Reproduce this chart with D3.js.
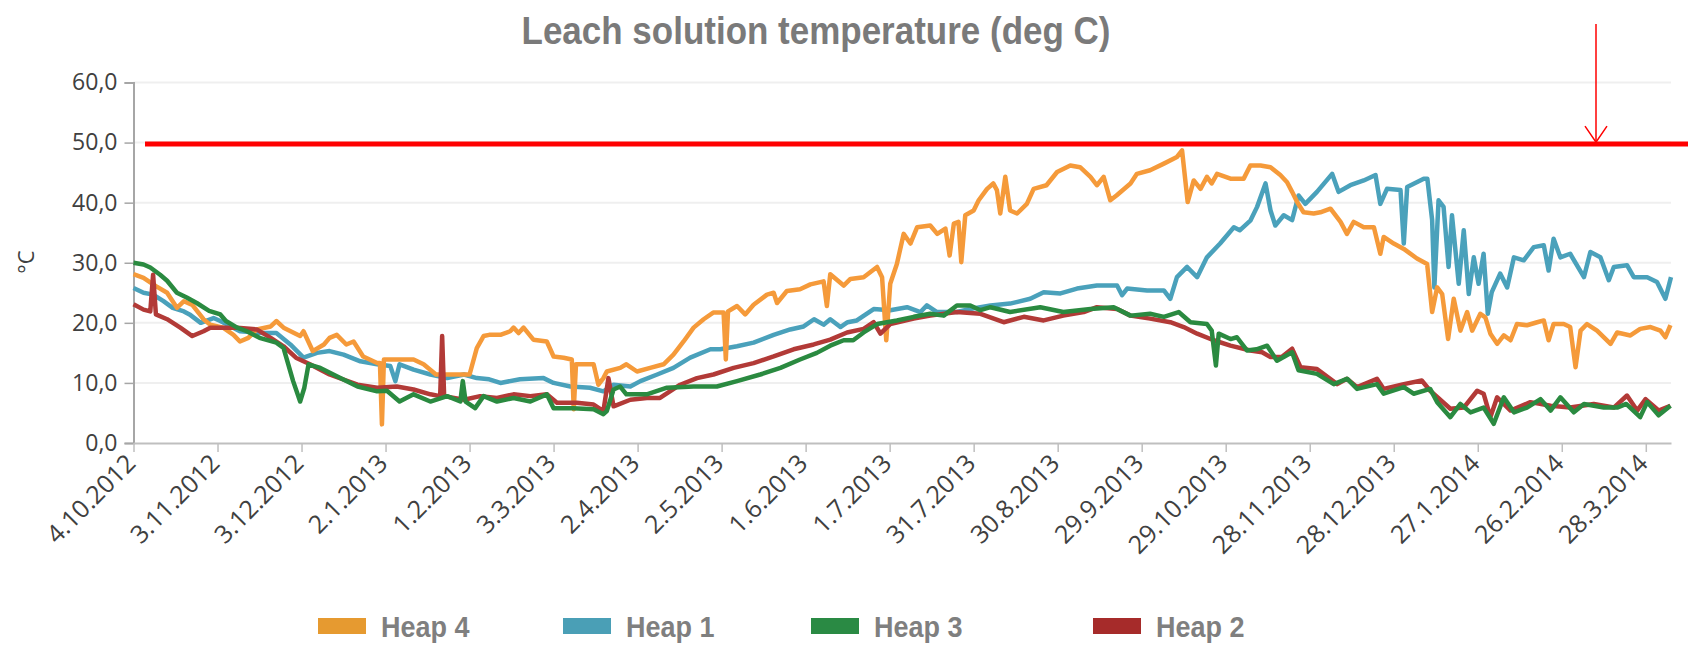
<!DOCTYPE html>
<html>
<head>
<meta charset="utf-8">
<script src="https://cdn.jsdelivr.net/npm/d3@7"></script>
<style>
  body { margin: 0; background: #fff; }
  svg { display: block; }
</style>
</head>
<body>
<div id="chart"></div>
<script>
// days since 4.10.2012, temperature in deg C
const heap4 = [[0,28.1],[3.6,27.5],[8,26.1],[12,25],[15.5,22.5],[18,23.6],[21,23],[25,20.6],[27.4,19.7],[32,19.2],[35.7,18],[38,16.9],[41,17.5],[44,18.9],[49,19.4],[51,20.3],[53.6,19.2],[59.5,17.8],[60.7,18.6],[64,15.3],[68,16.4],[70,17.5],[72.6,18],[76,16.4],[78.6,16.9],[82,14.4],[87,13.3],[88,13.3],[88.7,3.1],[89.4,13.9],[94,13.9],[100,13.9],[103.6,13.1],[108,11.4],[113,11.4],[118,11.4],[120,11.4],[122.6,15.8],[125,17.8],[127,18],[131,18],[134.5,18.6],[135.7,19.2],[137.5,18.3],[139.3,19.2],[142.8,17.2],[147.6,16.9],[150,14.4],[153.6,14.2],[156.5,13.9],[157.2,5.6],[158,13.1],[164.3,13.1],[166,9.7],[167.8,10.8],[169,11.9],[173.8,12.5],[176,13.1],[179.8,11.9],[184.5,12.5],[189.3,13.1],[192.8,14.7],[196.4,16.9],[200,19.2],[203.6,20.6],[207,21.7],[210.7,21.7],[211.5,13.9],[212.3,21.9],[215.5,22.8],[218.4,21.4],[221.4,23],[226.2,24.7],[228.6,25],[229.8,23.3],[233.3,25.3],[238,25.6],[241.7,26.4],[246.4,26.9],[247.6,22.8],[248.8,28.1],[253.6,26.2],[256,27.3],[260.7,27.6],[265.5,29.3],[267.3,27.6],[268.8,17.1],[270.2,26.5],[272.6,29.8],[275,34.8],[277.4,33.2],[279.8,35.9],[284.5,36.2],[287,34.8],[289.9,35.7],[291.4,31.2],[292.9,36.5],[294.6,36.8],[295.6,30.1],[297,37.9],[300,38.7],[301.8,40.4],[304.8,42.3],[307,43.2],[308.3,42.1],[309.5,38.2],[311.3,44.3],[313,38.7],[315.5,38.2],[319,39.8],[321.4,42.3],[326,42.9],[329.8,45.1],[334.5,46.2],[338,45.9],[341.7,44.3],[344,42.9],[346.4,44.3],[348.8,40.4],[351,41.2],[356,43.2],[358.3,44.8],[363,45.4],[367.9,46.5],[372.6,47.6],[374.4,48.7],[376.4,40.1],[378.6,43.7],[381,42.3],[383.3,44.3],[385,43.2],[386.9,44.8],[391.7,44],[396.4,44],[398.8,46.2],[402.4,46.2],[406,45.9],[409.5,44.6],[411.9,43.4],[413.7,41.8],[415.5,40.1],[417.8,38.4],[421.4,38.2],[423.8,38.4],[427.4,39],[431,36.8],[433.3,34.8],[435.7,36.8],[439.3,35.9],[442.9,35.9],[445.2,31.5],[446.4,34.3],[450,33.2],[453.6,32.3],[458.3,30.7],[461.9,29.8],[463.7,21.8],[465.5,25.9],[467.3,24.8],[469.4,17.3],[471.4,24],[473.8,18.7],[476.2,21.8],[478,18.7],[480.9,21.5],[482.7,20.9],[484.5,18.2],[486.9,16.5],[489.3,17.9],[491.7,17.1],[494,19.8],[497.6,19.6],[501.2,20.1],[503.6,20.4],[505.3,17.1],[507.1,19.8],[510.7,19.8],[513,19.3],[514.9,12.6],[516.7,18.7],[519,19.8],[522.6,18.7],[527.4,16.5],[529.8,18.4],[534.5,17.9],[538,19],[541.7,19.3],[545.2,18.7],[547,17.6],[548.8,19.6]];

const heap1 = [[0,25.8],[3.6,25],[7,24.7],[10.7,23.6],[14,22.5],[18,21.9],[20,21.4],[24,20],[28.6,20.8],[31,20.3],[38,18.6],[46,18.3],[51,18.3],[56,16.4],[60.7,14.2],[65.5,15],[70,15.3],[75,14.7],[81,13.6],[87,13.1],[91.7,12.8],[93.5,10.3],[95,13.1],[100,12.2],[106,11.4],[112,10.8],[118,11.4],[122.6,10.8],[127,10.6],[131,10],[138,10.6],[146.4,10.8],[150,10],[156,9.4],[163,9.2],[167.8,8.6],[171.4,9.7],[177.4,9.4],[181,10.3],[187,11.4],[192.8,12.5],[198.8,14.2],[206,15.6],[209.5,15.6],[215.5,16.1],[221.4,16.7],[228.6,18],[234.5,18.9],[239.3,19.4],[243,20.6],[246.4,19.7],[248.8,20.6],[252.4,19.3],[255,20.1],[258.3,20.4],[264.3,22.3],[270.2,22.1],[276.2,22.6],[281,21.8],[283.3,22.9],[286.9,21.8],[294,21.8],[298.8,22.3],[306,22.9],[313,23.2],[320.2,24],[325,25.1],[331,24.9],[336.9,25.7],[344,26.2],[351.2,26.2],[353,24.6],[354.8,25.7],[361.9,25.4],[367.9,25.4],[370.2,24],[372.6,27.6],[376.2,29.3],[379.8,27.6],[383.3,30.9],[388,33.2],[392.9,35.9],[395,35.4],[398.8,37],[401.2,39.3],[404.2,43.2],[406,38.7],[407.7,36.2],[410.7,37.9],[413.7,37.1],[416,41.2],[418.4,39.8],[422.6,41.8],[428,44.8],[430.3,41.8],[434.5,42.9],[439.3,43.7],[443.5,44.6],[445.2,39.8],[447.6,42.3],[452.4,42.1],[453.6,33.2],[454.8,42.6],[460.7,44],[462,44],[463.7,37.1],[464.5,25.9],[466,40.4],[467.8,39.3],[469.6,29.3],[470.8,37.9],[473.2,26.5],[475,35.4],[476.8,24.8],[478.6,30.9],[480.3,26.5],[482.1,31.5],[483.6,21.5],[485,25.1],[488,28.2],[490.5,25.9],[492.9,30.9],[496.4,30.4],[500,32.6],[503.6,32.9],[505.3,28.7],[507.1,34],[509.5,30.9],[513,31.5],[517.9,27.6],[520.2,31.8],[523.8,30.9],[526.8,27.1],[528.6,29.3],[533.3,29.6],[535.7,27.6],[540.5,27.6],[544,26.8],[547,24],[549,27.6]];

const heap3 = [[0,30],[3.6,29.7],[6,29.2],[9.5,28],[12,27],[15.5,25],[19,24.2],[22.6,23.3],[27,22],[31,21.4],[33,20.3],[37,19.2],[40.5,18.6],[45,17.5],[51,16.7],[53.6,15.8],[57,10.3],[59.5,6.9],[61,9.2],[62.5,13.1],[66.7,12.5],[72.6,11.1],[80,9.4],[87,8.6],[90.5,8.7],[95,6.9],[100,8.1],[106,6.9],[112,7.8],[116.7,6.9],[117.6,10.3],[118.6,6.9],[122,5.8],[125,7.8],[129.8,6.9],[135.7,7.5],[141.7,6.9],[147.6,8.1],[150,5.8],[157,5.8],[164.3,5.6],[167.8,4.8],[169,5.3],[171.4,8.9],[173.8,9.4],[176,8.1],[183.3,8.1],[190.5,9.2],[200,9.4],[208.3,9.4],[215.5,10.3],[223.8,11.4],[231,12.5],[238,13.9],[244,15],[248.8,16.2],[253.6,17.1],[257,17.1],[260.7,18.4],[265.5,19.8],[272.6,20.4],[278.6,21],[284.5,21.5],[289.3,21.2],[294,22.9],[298.8,22.9],[302.4,22.1],[306,22.6],[313,21.8],[323.8,22.6],[332,21.8],[341.7,22.3],[350,22.6],[356,21.2],[363,21.5],[367.9,21],[373.2,21.8],[377.4,20.1],[383.3,19.8],[385,18.7],[386.5,12.9],[387.5,18.2],[391.7,17.3],[394,17.6],[397.6,15.4],[401,15.6],[404.8,16.2],[408.3,13.7],[413.7,15.1],[416,12.1],[422.6,11.5],[428.6,9.8],[433.3,10.7],[436.9,9],[444,9.8],[446.4,8.2],[453.6,9.3],[457.1,8.2],[463,9],[465.5,6.8],[470.2,4.3],[473.8,6.5],[477.4,5.1],[482.1,5.9],[485.7,3.2],[489.3,7.6],[492.9,5.1],[497.6,5.9],[502.4,7.3],[506,5.4],[509.5,7.6],[514.3,5.1],[517.9,6.5],[525,5.9],[529.8,5.9],[533,6.5],[538,4.3],[540.5,6.8],[544.6,4.6],[548.8,6.2]];

const heap2 = [[0,23.1],[3.6,22.2],[6,21.9],[7,28],[8,21.4],[12,20.6],[16.7,19.2],[21,17.8],[25,18.6],[27.4,19.2],[32,19.2],[37,19.2],[44,18.9],[49,17.5],[53.6,16.1],[58,14.2],[63,13.1],[70,11.4],[80,9.7],[87,9.2],[94,9.4],[100,8.9],[106,8.1],[109.5,7.8],[110.2,17.8],[110.9,7.8],[118,7.2],[123.8,7.8],[129.8,7.5],[135.7,8.1],[141.7,7.8],[147.6,8.1],[151.2,6.7],[158.3,6.7],[164.3,6.4],[167.8,5.3],[169.6,10.8],[171.4,6.1],[177.4,7.2],[183.3,7.5],[188,7.5],[195.2,9.7],[201.2,10.8],[207.1,11.4],[214.3,12.5],[221.4,13.3],[228.6,14.4],[235.7,15.6],[242.9,16.4],[248.8,17.2],[254.8,18.4],[260.7,19],[264.3,20.1],[266.7,18.2],[270.2,19.8],[278.6,20.7],[284.5,21.2],[294,21.8],[302.4,21.5],[310.7,20.1],[317.9,21],[325,20.4],[332,21.2],[339.3,21.8],[344,22.6],[351.2,22.3],[356,21.2],[363,20.7],[370.2,20.1],[375,19.3],[379.8,18.2],[385.7,17.1],[391.7,16.2],[398.8,15.4],[403,15.1],[406,14.3],[410,14.3],[413.7,15.7],[416.7,12.6],[422.6,12.3],[429.8,9.8],[433.3,10.7],[436.9,9.3],[444,10.7],[446.4,9],[453.6,9.8],[460,10.4],[463,8.7],[470.2,5.7],[475,5.9],[479.8,8.7],[482.1,8.2],[484.5,4.3],[486.9,7.6],[491.7,5.4],[498.8,6.8],[506,6.2],[513,5.9],[521.4,6.5],[528.6,5.9],[533.3,7.9],[536.9,5.4],[539.9,7.3],[544.6,5.4],[548.8,6.2]];

const series_names = ["Heap 4", "Heap 1", "Heap 3", "Heap 2"];
const tick_labels = ["4.10.2012","3.11.2012","3.12.2012","2.1.2013","1.2.2013","3.3.2013","2.4.2013","2.5.2013","1.6.2013","1.7.2013","31.7.2013","30.8.2013","29.9.2013","29.10.2013","28.11.2013","28.12.2013","27.1.2014","26.2.2014","28.3.2014"];
const y_ticks = [0, 10, 20, 30, 40, 50, 60];
const limit_temp = 49.75;
const last_day = "6.4.2014";

const colors = {
  "Heap 4": "#f59a3a",
  "Heap 1": "#4aa1bb",
  "Heap 3": "#2a8a40",
  "Heap 2": "#b23a37"
};
const swatch_colors = {
  "Heap 4": "#e69a30",
  "Heap 1": "#4a9fb6",
  "Heap 3": "#2a8a44",
  "Heap 2": "#a62b2a"
};

const W = 1688, H = 645;
const parse = d3.utcParse("%d.%m.%Y");
const start_date = parse(tick_labels[0]);

const x = d3.scaleUtc()
  .domain([start_date, parse(last_day)])
  .range([133.5, 1671]);
const y = d3.scaleLinear()
  .domain([0, 60])
  .range([443, 82.5]);

const svg = d3.select("#chart")
  .append("svg")
  .attr("width", W)
  .attr("height", H)
  .style("background", "#fff");

// title (slightly stretched vertically like the source image)
svg.append("text")
  .attr("transform", "translate(816,44) scale(1,1.12)")
  .attr("text-anchor", "middle")
  .style("font-family", "'Liberation Sans', Arial, sans-serif")
  .style("font-weight", "bold")
  .style("font-size", "35px")
  .style("fill", "#7a7a7a")
  .text("Leach solution temperature (deg C)");

// horizontal gridlines
svg.append("g")
  .selectAll("line")
  .data(y_ticks.filter(v => v > 0))
  .enter()
  .append("line")
  .attr("x1", x.range()[0])
  .attr("x2", x.range()[1])
  .attr("y1", d => y(d))
  .attr("y2", d => y(d))
  .style("stroke", "#efefef")
  .style("stroke-width", 2);

// y axis
const y_axis = svg.append("g")
  .attr("transform", `translate(${x.range()[0]},0)`)
  .call(d3.axisLeft(y)
    .tickValues(y_ticks)
    .tickSize(9)
    .tickPadding(7)
    .tickFormat(v => d3.format(".1f")(v).replace(".", ",")));
y_axis.select(".domain").style("stroke", "#a6a6a6").style("stroke-width", 2);
y_axis.selectAll(".tick line").style("stroke", "#a6a6a6").style("stroke-width", 1.5);
y_axis.selectAll("text")
  .style("font-family", "'Open Sans', sans-serif")
  .style("font-size", "23px")
  .style("fill", "#404040");

svg.append("text")
  .attr("transform", "translate(34,262) rotate(-90)")
  .attr("text-anchor", "middle")
  .style("font-family", "'Open Sans', sans-serif")
  .style("font-size", "22px")
  .style("fill", "#404040")
  .text("°C");

// x axis
const x_axis = svg.append("g")
  .attr("transform", `translate(0,${y(0)})`)
  .call(d3.axisBottom(x)
    .tickValues(tick_labels.map(parse))
    .tickSize(9)
    .tickSizeOuter(0)
    .tickFormat(d3.utcFormat("%-d.%-m.%Y")));
x_axis.select(".domain").style("stroke", "#bfbfbf").style("stroke-width", 2);
x_axis.selectAll(".tick line").style("stroke", "#bfbfbf").style("stroke-width", 1.5);
x_axis.selectAll("text")
  .attr("y", 0)
  .attr("dy", 0)
  .attr("transform", "translate(3,22) rotate(-45)")
  .attr("text-anchor", "end")
  .style("font-family", "'Open Sans', sans-serif")
  .style("font-size", "25px")
  .style("fill", "#404040");

// series lines
const line = d3.line()
  .x(d => x(d3.utcHour.offset(start_date, Math.round(d[0] * 24))))
  .y(d => y(d[1]));

const draw_order = [["Heap 1", heap1], ["Heap 4", heap4], ["Heap 2", heap2], ["Heap 3", heap3]];
svg.append("g")
  .selectAll("path")
  .data(draw_order)
  .enter()
  .append("path")
  .attr("d", d => line(d[1]))
  .style("fill", "none")
  .style("stroke", d => colors[d[0]])
  .style("stroke-width", 4.5)
  .style("stroke-linejoin", "round");

// 50 deg limit line and arrow
svg.append("line")
  .attr("x1", 145)
  .attr("x2", W)
  .attr("y1", y(limit_temp))
  .attr("y2", y(limit_temp))
  .style("stroke", "#ff0000")
  .style("stroke-width", 5);

svg.append("line")
  .attr("x1", 1596).attr("x2", 1596)
  .attr("y1", 24).attr("y2", y(limit_temp) - 2)
  .style("stroke", "#ff0000")
  .style("stroke-width", 1.5);
svg.append("path")
  .attr("d", `M1585,${y(limit_temp) - 18}L1596,${y(limit_temp) - 2}L1607,${y(limit_temp) - 18}`)
  .style("fill", "none")
  .style("stroke", "#ff0000")
  .style("stroke-width", 1.5);

// legend
const legend_x = [318, 563, 811, 1093];
const legend = svg.append("g")
  .selectAll("g")
  .data(series_names)
  .enter()
  .append("g")
  .attr("transform", (d, i) => `translate(${legend_x[i]},618)`);
legend.append("rect")
  .attr("width", 48)
  .attr("height", 16)
  .style("fill", d => swatch_colors[d]);
legend.append("text")
  .attr("transform", "translate(63,19) scale(1,1.1)")
  .style("font-family", "'Liberation Sans', Arial, sans-serif")
  .style("font-weight", "bold")
  .style("font-size", "27px")
  .style("fill", "#7f7f7f")
  .text(d => d);
</script>
</body>
</html>
